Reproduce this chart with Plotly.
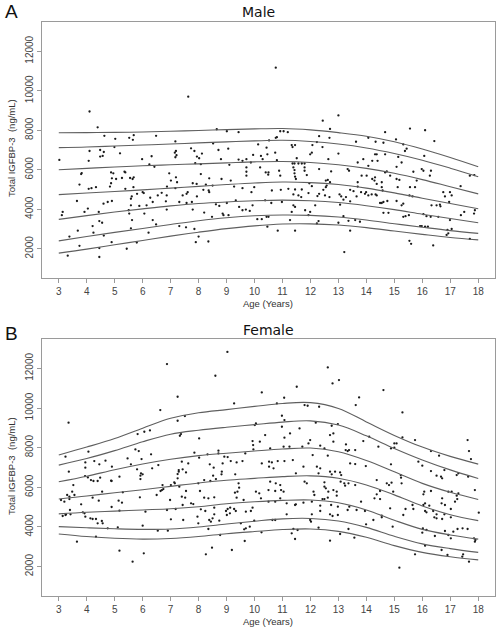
import plotly.graph_objects as go

# ---------------- data ----------------
curve_ages = [3, 4, 5, 6, 7, 8, 9, 10, 11, 12, 13, 14, 15, 16, 17, 18]

male_p97 = [7870, 7880, 7890, 7910, 7950, 7990, 8030, 8070, 8090, 8020, 7880, 7700, 7420, 7050, 6620, 6150]
male_p90 = [7120, 7150, 7200, 7250, 7300, 7360, 7410, 7460, 7490, 7430, 7300, 7100, 6820, 6480, 6080, 5650]
male_p75 = [6000, 6070, 6140, 6200, 6250, 6300, 6350, 6400, 6420, 6370, 6250, 6070, 5820, 5500, 5140, 4780]
male_p50 = [4740, 4820, 4900, 4980, 5070, 5160, 5250, 5330, 5380, 5350, 5250, 5070, 4830, 4560, 4290, 4030]
male_p25 = [3490, 3680, 3860, 4020, 4170, 4290, 4370, 4430, 4460, 4430, 4340, 4180, 3980, 3750, 3530, 3320]
male_p10 = [2400, 2620, 2830, 3030, 3230, 3420, 3570, 3670, 3710, 3690, 3610, 3460, 3270, 3090, 2920, 2780]
male_p3 = [1780, 1980, 2200, 2420, 2640, 2840, 3020, 3160, 3250, 3260, 3200, 3070, 2900, 2730, 2570, 2450]

female_p97 = [7630, 8030, 8460, 8980, 9480, 9760, 9920, 10080, 10230, 10270, 9980, 9300, 8620, 8030, 7560, 7170]
female_p90 = [7120, 7450, 7850, 8300, 8680, 8880, 9030, 9160, 9290, 9350, 9140, 8600, 7960, 7380, 6880, 6450]
female_p75 = [6280, 6560, 6890, 7180, 7420, 7600, 7720, 7830, 7930, 7980, 7790, 7350, 6780, 6200, 5750, 5390]
female_p50 = [5410, 5560, 5730, 5880, 6050, 6220, 6360, 6450, 6540, 6580, 6460, 6120, 5620, 5060, 4620, 4320]
female_p25 = [4660, 4740, 4800, 4860, 4920, 5020, 5170, 5270, 5340, 5360, 5220, 4860, 4340, 3880, 3600, 3390]
female_p10 = [4020, 3960, 3910, 3880, 3900, 4000, 4150, 4290, 4410, 4430, 4300, 3980, 3530, 3150, 2910, 2720]
female_p3 = [3650, 3520, 3430, 3390, 3420, 3520, 3660, 3770, 3870, 3900, 3780, 3480, 3060, 2720, 2500, 2340]

male_age = [
    7.63, 4.1, 4.39, 4.63, 5.02, 5.52, 5.68, 5.65, 6.48, 8.65, 9.01, 9.43, 3.02, 4.1, 4.07, 4.48, 4.61, 4.48,
    4.57, 4.99, 5.19, 5.98, 6.32, 6.24, 6.42, 7.17, 7.19, 7.15, 7.21, 7.17, 7.73, 7.85, 8.12, 8.02, 7.94, 7.88,
    8.08, 8.52, 8.71, 9.06, 8.8, 9.1, 9.43, 9.57, 9.71, 9.95, 10.13, 10.23, 10.29, 10.43, 10.52, 10.46, 10.2,
    10.4, 10.49, 9.71, 9.71, 9.71, 9.87, 3.8, 3.82, 3.74, 4.07, 4.17, 4.33, 4.87, 4.95, 4.9, 5.05, 4.87, 4.83,
    5.26, 5.35, 5.38, 5.55, 5.64, 5.68, 5.67, 5.38, 6.95, 7.01, 7.19, 7.23, 6.87, 7.17, 8.08, 8.38, 7.79, 7.93,
    8.26, 8.5, 8.82, 9.15, 9.27, 9.57, 9.89, 9.99, 10.38, 7.61, 7.57, 7.43, 8.36, 8.38, 8.17, 7.94, 7.76, 7.57,
    5.61, 5.58, 5.8, 6.0, 6.04, 6.27, 6.54, 6.68, 6.86, 6.83, 3.65, 4.6, 4.75, 4.9, 5.58, 5.88, 6.14, 6.36,
    6.06, 5.5, 5.52, 4.04, 3.92, 3.14, 3.11, 4.43, 6.86, 7.31, 7.79, 8.2, 8.48, 8.62, 8.74, 8.86, 8.89, 9.07,
    9.01, 9.33, 9.45, 9.57, 9.69, 9.83, 9.93, 10.1, 10.26, 10.43, 4.45, 4.55, 4.21, 3.68, 4.24, 4.61, 3.38,
    3.74, 4.45, 4.45, 3.32, 5.62, 5.58, 6.36, 6.48, 6.21, 5.43, 5.79, 4.89, 7.31, 7.55, 7.85, 8.0, 7.9, 8.35,
    10.46,
    10.76, 12.44, 13.0, 12.7, 10.92, 11.04, 11.19, 10.76, 10.8, 11.33, 11.45, 11.36, 12.07, 12.23, 12.31,
    12.43, 12.68, 11.99, 12.05, 10.74, 11.51, 13.0, 12.64, 13.63, 14.07, 14.67, 15.06, 14.33, 15.56, 16.1,
    16.43, 14.31, 14.37, 14.67, 14.61, 15.32, 15.44, 15.38, 15.14, 15.26, 15.08, 16.07, 16.04, 16.31, 16.27,
    15.98, 15.68, 17.7, 17.86, 13.89, 13.69, 14.07, 14.21, 14.4, 10.8, 11.36, 11.43, 11.57, 11.69, 11.79,
    11.39, 11.43, 11.43, 11.45, 11.48, 11.79, 11.79, 11.87, 12.31, 12.74, 13.33, 13.38, 10.88, 10.92, 10.5,
    11.96, 12.05, 12.55, 12.62, 12.7, 12.58, 12.55, 12.46, 12.52, 12.68, 12.31, 12.25, 11.93, 11.69, 11.45,
    11.39, 11.57, 11.67, 11.21, 10.94, 10.62, 13.04, 13.1, 13.42, 13.54, 13.65, 13.69, 13.69, 13.83, 14.01,
    13.81, 13.95, 13.99, 14.07, 14.19, 14.33, 14.21, 14.29, 14.31, 14.37, 14.55, 14.55, 14.58, 14.67, 14.73,
    14.85, 15.08, 15.18, 15.12, 15.56, 15.54, 15.74, 15.8, 15.65, 14.37, 14.49, 14.55, 14.61, 14.75, 15.08,
    15.32, 13.42, 13.18, 13.27, 10.6, 10.98, 11.39, 11.45, 11.33, 11.81, 11.99, 12.17, 11.93, 13.06, 11.27,
    10.5, 10.83, 11.45, 12.23, 12.29, 13.0, 13.18, 13.36, 13.6, 13.77, 13.42, 13.21, 14.61, 14.79, 15.32,
    15.4, 15.52, 15.26, 16.33, 16.51, 16.63, 16.65, 16.04, 16.15, 16.3, 16.57, 16.75, 16.99, 17.05, 16.81,
    16.96, 17.37, 17.5, 17.38, 17.85, 17.88, 16.99, 17.05, 16.9, 16.93, 16.87, 17.7, 15.98, 16.1, 16.2,
    15.92, 15.54, 15.6, 16.39,
]
male_igfbp3 = [
    9700, 8950, 8150, 7717, 7567, 7617, 7750, 7517, 7717, 8050, 7950, 7900, 6500, 6950, 6450, 7000, 6900, 6667,
    6700, 7150, 6833, 6533, 6683, 6267, 6150, 7433, 6950, 6867, 6733, 6633, 7083, 6950, 6817, 6583, 6667, 6333,
    6283, 7333, 7000, 7067, 6533, 6250, 6517, 6450, 6533, 6750, 7283, 6700, 6533, 7117, 7483, 6783, 6117,
    5867, 5750, 6117, 5900, 5700, 6367, 5783, 5833, 5250, 5033, 5067, 5117, 5867, 5817, 5567, 5533, 5317, 5150,
    5583, 5900, 5867, 5583, 5533, 5617, 5117, 5033, 5817, 5450, 5617, 5367, 5150, 5067, 5783, 5567, 5317, 5283,
    5250, 5200, 5533, 5450, 5150, 5067, 4867, 5117, 4450, 4867, 4783, 4700, 4950, 4867, 4983, 4650, 4367, 4317,
    4650, 4533, 4783, 4867, 4817, 4583, 4700, 4833, 4700, 4400, 4417, 4283, 4367, 4417, 4200, 4167, 4200, 4367,
    3783, 3950, 3783, 4033, 3867, 3867, 3700, 3867, 3983, 4367, 3983, 3833, 3617, 4250, 4167, 3783, 3700, 3700,
    4317, 4450, 4117, 3950, 3983, 3917, 4200, 3500, 3500, 3617, 3400, 3317, 3150, 2917, 2817, 2667, 2617,
    2150, 2033, 1583, 1650, 3450, 3033, 3450, 3233, 2817, 2000, 2317, 2333, 3150, 3083, 3000, 2617, 2333, 2367,
    3117,
    11167, 8483, 8750, 8067, 7950, 7950, 7900, 7617, 7650, 7250, 7250, 7150, 7250, 7400, 7700,
    7150, 7617, 6783, 6867, 6867, 6583, 6817, 6533, 7417, 7617, 7900, 7533, 7417, 8083, 8000,
    7450, 6783, 6783, 6783, 7367, 7283, 7067, 6950, 6650, 6367, 6150, 6700, 5950, 5950, 5700,
    6033, 5900, 5700, 5733, 6533, 6367, 6200, 6450, 6450, 6483, 6317, 6317, 6317, 6317, 6317,
    6117, 5983, 5817, 5650, 5533, 6117, 5950, 5733, 6033, 5917, 6033, 5950, 5950, 5700, 5867,
    5317, 5167, 5450, 5483, 5367, 5200, 5117, 4983, 4700, 4617, 4783, 4667, 4817, 5000, 5000,
    4750, 4700, 4617, 5033, 4983, 4950, 4750, 4650, 4983, 4917, 4650, 5367, 5150, 5700, 5700,
    4867, 4783, 4867, 4700, 4750, 4750, 5533, 5450, 5617, 5283, 5367, 5117, 4950, 5867, 5917,
    5700, 5533, 5483, 5117, 5117, 4700, 5117, 5450, 4650, 4700, 4317, 4317, 4367, 4417, 4417,
    4283, 4400, 4483, 4617, 4317, 4367, 4200, 4117, 3867, 3950, 3867, 4200, 3700, 4233, 3450,
    3617, 2917, 2917, 3283, 3400, 3317, 3650, 3417, 3450, 3367, 2917, 1833, 3817, 3817, 3617,
    3650, 3700, 4200, 4200, 4200, 4233, 4150, 3750, 3650, 3617, 3617, 4867, 4867, 4700, 4650,
    4367, 5167, 3867, 3700, 3783, 3950, 3450, 3000, 2950, 2783, 2700, 2500, 3150, 3117, 3117,
    3150, 2400, 2250, 2167,
]

female_age = [
    6.87, 8.6, 7.25, 10.26, 9.27, 6.63, 3.35, 7.25, 7.51, 7.37, 7.33, 8.02, 10.05, 10.01, 10.38, 5.82, 6.06,
    6.26, 5.74, 5.86, 6.3, 4.06, 3.24, 7.85, 8.02, 8.32, 8.71, 8.71, 8.92, 9.04, 9.15, 9.36, 9.93, 9.95, 10.19,
    9.96, 10.26, 10.52, 9.57, 8.86, 3.95, 4.27, 4.45, 4.67, 4.9, 5.46, 5.58, 5.96, 6.56, 7.4, 7.63, 8.4, 8.54,
    7.43, 7.29, 3.95, 4.04, 4.15, 4.24, 4.39, 4.48, 3.36, 3.94, 4.87, 5.17, 5.8, 5.94, 5.92, 6.0, 5.92, 6.34,
    7.25, 7.29, 7.55, 7.25, 7.13, 7.31, 8.83, 8.82, 9.31, 8.52, 8.42, 8.2, 8.62, 9.67, 3.52, 4.89, 5.29, 6.5,
    6.69, 6.74, 6.71, 7.01, 7.15, 6.98, 7.55, 7.73, 7.81, 7.4, 7.52, 7.99, 8.05, 8.56, 8.35, 8.2, 9.43, 9.45,
    9.39, 9.3, 9.36, 9.61, 10.05, 10.17, 10.23, 10.5, 3.08, 3.2, 3.38, 3.38, 3.48, 3.56, 3.3, 3.8, 4.21, 4.43,
    4.55, 5.14, 5.26, 4.89, 5.9, 6.64, 7.18, 7.43, 8.24, 8.56, 8.98, 9.04, 9.13, 9.27, 9.33, 9.12, 9.01, 9.69,
    9.87, 9.93, 10.5, 3.4, 3.24, 3.14, 3.26, 3.42, 3.86, 3.92, 3.95, 4.13, 4.21, 4.33, 4.39, 4.54, 4.57, 4.75,
    5.11, 5.17, 6.1, 6.0, 6.87, 7.01, 7.45, 7.96, 8.08, 8.38, 8.5, 8.44, 8.56, 8.74, 9.99, 9.51, 9.63, 9.69,
    9.83, 8.35, 7.99, 6.54, 6.9, 8.77, 4.33, 3.65, 5.17, 6.04, 5.64, 8.26, 8.48, 9.19, 9.65, 10.25, 9.03,
    12.62, 12.79, 13.02, 11.51, 14.61, 13.74, 11.06, 15.29, 13.62, 10.98, 11.07, 11.79, 11.9, 12.31, 10.8,
    10.98, 11.27, 11.07, 11.61, 12.19, 12.76, 12.98, 12.7, 12.82, 12.82, 11.99, 11.93, 14.1, 15.29, 15.74,
    15.0, 15.08, 15.0, 14.88, 14.43, 13.89, 13.27, 13.33, 13.26, 13.38, 13.6, 12.35, 12.5, 12.62, 12.08,
    11.71, 11.25, 11.04, 10.56, 16.31, 16.6, 17.62, 17.67, 17.74, 15.86, 16.0, 16.31, 16.51, 16.67, 16.71,
    16.79, 17.23, 17.29, 17.64, 17.88, 18.02, 10.83, 11.07, 11.37, 10.62, 10.52, 10.68, 11.75, 12.23, 12.35,
    11.48, 12.29, 12.7, 12.76, 12.88, 13.06, 13.1, 13.42, 13.6, 13.98, 14.88, 15.23, 15.24, 15.26, 10.76,
    10.92, 10.95, 11.04, 10.74, 10.56, 11.87, 11.79, 12.11, 12.14, 12.5, 12.5, 12.55, 12.64, 12.82, 12.94,
    12.94, 12.62, 12.43, 12.5, 13.21, 13.36, 13.24, 13.6, 13.08, 14.37, 14.73, 14.81, 14.9, 14.96, 14.49,
    14.37, 14.29, 14.49, 13.81, 13.39, 12.98, 12.74, 12.35, 12.05, 11.75, 11.48, 11.15, 10.74, 10.92, 16.07,
    16.04, 16.31, 16.71, 16.69, 16.93, 17.05, 17.23, 17.29, 17.17, 17.02, 17.02, 17.25, 15.65, 15.68, 15.4,
    16.04, 16.1, 16.25, 16.1, 16.15, 16.39, 16.51, 16.43, 16.51, 16.71, 16.79, 16.81, 15.32, 14.85, 14.55,
    14.55, 14.25, 13.95, 13.65, 13.33, 12.98, 12.7, 12.79, 12.35, 12.05, 11.45, 11.15, 10.74, 10.64, 11.99,
    12.02, 12.29, 11.39, 11.54, 11.33, 11.45, 12.7, 13.06, 13.36, 13.57, 13.99, 14.94, 16.02, 16.0, 16.15,
    16.45, 16.81, 16.93, 17.02, 17.11, 17.26, 17.44, 17.62, 17.85, 17.88, 17.9, 16.1, 16.69, 16.9, 17.43,
    17.46, 17.67, 15.74, 15.18,
]
female_igfbp3 = [
    12214, 11626, 10568, 10786, 10232, 9896, 9258, 9358, 9594, 8686, 8602, 8468, 9224, 9140, 8636, 8686, 8804,
    8871, 7914, 7830, 7662, 7796, 7544, 7746, 7494, 7662, 7846, 7712, 7544, 7527, 7326, 7258, 8334, 8132, 8300,
    7914, 7208, 7292, 7326, 7208, 7258, 7326, 7158, 7342, 7040, 7460, 7158, 7426, 7124, 7292, 7208, 7158, 6990,
    6906, 6872, 6990, 6502, 6368, 6318, 6318, 6486, 6788, 6570, 6334, 6536, 6906, 6704, 6586, 6654, 6418, 6956,
    6670, 6788, 6754, 6452, 6250, 6032, 6788, 6654, 6654, 6586, 6318, 6368, 6418, 7712, 6116, 6318, 5746, 5612,
    5864, 5914, 6116, 6116, 6200, 5360, 5814, 5192, 5158, 5528, 5478, 6200, 5814, 5494, 5444, 5478, 6200, 5982,
    5780, 5730, 5478, 5360, 5780, 5696, 5444, 5864, 5360, 5276, 5410, 5528, 5780, 5612, 5612, 5142, 5478, 5326,
    5780, 5326, 5226, 5007, 5494, 5814, 4906, 5108, 4806, 4974, 4806, 4906, 4974, 4906, 4806, 4688, 4604, 4772,
    4806, 4974, 5276, 4856, 4604, 4554, 4638, 4638, 4738, 4688, 4520, 4436, 4402, 4402, 4184, 4302, 4184, 3932,
    3982, 4822, 4772, 4066, 4856, 4386, 4352, 4520, 4890, 4352, 4436, 4268, 4638, 4318, 4318, 4184, 3882, 3932,
    4016, 3898, 4184, 3814, 3814, 3596, 3512, 3260, 2806, 2672, 2252, 2622, 2958, 2840, 3294, 3730, 12830,
    12046, 11240, 11408, 11072, 10904, 10534, 10518, 9778, 10148, 9610, 9392, 10148, 10114, 10064, 10232,
    9056, 8720, 8502, 8972, 9258, 9106, 9190, 8636, 8720, 8300, 8384, 8216, 8552, 8518, 8384,
    8216, 8216, 7998, 7964, 8048, 8334, 8166, 7830, 7880, 7880, 7880, 8099, 7964, 7594, 7628,
    8048, 8048, 8048, 7964, 7830, 7594, 8384, 7830, 7426, 7292, 7090, 6822, 6586, 6536, 6452,
    6872, 6620, 6704, 6536, 5864, 4722, 7326, 7326, 7376, 7258, 7040, 6956, 7040, 7040, 6956,
    6704, 6704, 6788, 6654, 6788, 6754, 6620, 7208, 7174, 7074, 7158, 6620, 6486, 6200, 6200,
    6116, 5864, 5780, 5814, 6284, 6200, 6284, 5780, 5612, 6250, 6032, 5948, 5780, 5864, 5780,
    5578, 5478, 5410, 5410, 6200, 6200, 6082, 6116, 6284, 6368, 6200, 6116, 6234, 5780, 5814,
    5646, 5444, 5410, 5276, 5024, 5024, 5108, 5074, 5276, 5226, 5142, 5192, 5276, 5444, 5780,
    5646, 5814, 5444, 5192, 5780, 5780, 5578, 5696, 5276, 4906, 4486, 5410, 5108, 4906, 4906,
    5108, 5192, 5074, 4806, 4738, 4806, 4638, 4486, 4436, 4402, 4638, 5108, 4604, 4940, 4570,
    4486, 4352, 4806, 4856, 4856, 4604, 4638, 4554, 4806, 4638, 5108, 4638, 4352, 4352, 4352,
    4268, 3966, 3898, 3848, 3680, 3394, 3310, 3646, 3898, 3462, 4134, 4016, 3932, 3714, 3848,
    3546, 3798, 3596, 3428, 3764, 3898, 3932, 3898, 3428, 3260, 3344, 3058, 2840, 2588, 2504,
    2622, 2252, 2622, 1950,
]

x_ticks = list(range(3, 19))
x_tick_labels = [str(v) for v in x_ticks]
y_ticks = [2000, 4000, 6000, 8000, 10000, 12000]
y_tick_labels = ["2000", "4000", "6000", "8000", "10000", "12000"]

# ---------------- figure ----------------
W, H = 502, 629
L, R, T, B = 42, 7, 22, 33
plot_h = H - T - B  # 574
domA = [(596 - 278) / plot_h, 1.0]
domB = [0.0, (596 - 339) / plot_h]

fig = go.Figure()

curve_color = "#5f5f5f"
pt_color = "#1a1a1a"

male_curves = [male_p97, male_p90, male_p75, male_p50, male_p25, male_p10, male_p3]
female_curves = [female_p97, female_p90, female_p75, female_p50, female_p25, female_p10, female_p3]

fig.add_trace(go.Scatter(x=male_age, y=male_igfbp3, mode="markers", xaxis="x", yaxis="y",
                         marker=dict(size=2.3, color=pt_color), showlegend=False, hoverinfo="skip"))
for c in male_curves:
    fig.add_trace(go.Scatter(x=curve_ages, y=c, mode="lines", xaxis="x", yaxis="y",
                             line=dict(color=curve_color, width=1.1, shape="spline", smoothing=1.0),
                             showlegend=False, hoverinfo="skip"))

fig.add_trace(go.Scatter(x=female_age, y=female_igfbp3, mode="markers", xaxis="x2", yaxis="y2",
                         marker=dict(size=2.3, color=pt_color), showlegend=False, hoverinfo="skip"))
for c in female_curves:
    fig.add_trace(go.Scatter(x=curve_ages, y=c, mode="lines", xaxis="x2", yaxis="y2",
                             line=dict(color=curve_color, width=1.1, shape="spline", smoothing=1.0),
                             showlegend=False, hoverinfo="skip"))

tickfont = dict(family="Liberation Sans, Arial, sans-serif", size=10, color="#444444")
axis_common = dict(showline=True, linecolor="#9a9a9a", linewidth=1, mirror=True,
                   showgrid=False, zeroline=False, ticks="outside", ticklen=4,
                   tickcolor="#9a9a9a", tickfont=tickfont)

fig.update_layout(
    width=W, height=H,
    margin=dict(l=L, r=R, t=T, b=B, autoexpand=False),
    paper_bgcolor="white", plot_bgcolor="white",
    xaxis=dict(domain=[0, 1], anchor="y", range=[2.4, 18.6], tickvals=x_ticks, ticktext=x_tick_labels,
               **axis_common),
    yaxis=dict(domain=domA, anchor="x", range=[520, 13480], tickvals=y_ticks, ticktext=y_tick_labels,
               tickangle=-90, **axis_common),
    xaxis2=dict(domain=[0, 1], anchor="y2", range=[2.4, 18.6], tickvals=x_ticks, ticktext=x_tick_labels,
                **axis_common),
    yaxis2=dict(domain=domB, anchor="x2", range=[520, 13480], tickvals=y_ticks, ticktext=y_tick_labels,
                tickangle=-90, **axis_common),
)

def px_x(p):
    return (p - L) / (W - L - R)

def px_y(p):
    return (H - B - p) / plot_h

label_font = dict(family="Liberation Sans, Arial, sans-serif", size=9.5, color="#333333")
title_font = dict(family="DejaVu Sans, Verdana, sans-serif", size=14, color="#111111")
letter_font = dict(family="Liberation Sans, Arial, sans-serif", size=19, color="#111111")

annos = [
    dict(text="A", x=px_x(3), y=px_y(12), xanchor="left", yanchor="middle", font=letter_font),
    dict(text="Male", x=px_x(258), y=px_y(12), xanchor="center", yanchor="middle", font=title_font),
    dict(text="B", x=px_x(3), y=px_y(333), xanchor="left", yanchor="middle", font=letter_font),
    dict(text="Female", x=px_x(268), y=px_y(330), xanchor="center", yanchor="middle", font=title_font),
    dict(text="Age (Years)", x=px_x(268), y=px_y(303), xanchor="center", yanchor="middle", font=label_font),
    dict(text="Age (Years)", x=px_x(268), y=px_y(621), xanchor="center", yanchor="middle", font=label_font),
    dict(text="Total IGFBP-3  (ng/mL)", x=px_x(11), y=px_y(148), xanchor="center", yanchor="middle",
         textangle=-90, font=label_font),
    dict(text="Total IGFBP-3  (ng/mL)", x=px_x(11), y=px_y(466), xanchor="center", yanchor="middle",
         textangle=-90, font=label_font),
]
for a in annos:
    a.update(xref="paper", yref="paper", showarrow=False)
fig.update_layout(annotations=annos)

# remove the browser's default 8px page margin so the figure sits at the window origin
fig.write_html("out.html", config={"displayModeBar": False},
               post_script="document.body.style.margin='0';document.body.style.overflow='hidden';")
